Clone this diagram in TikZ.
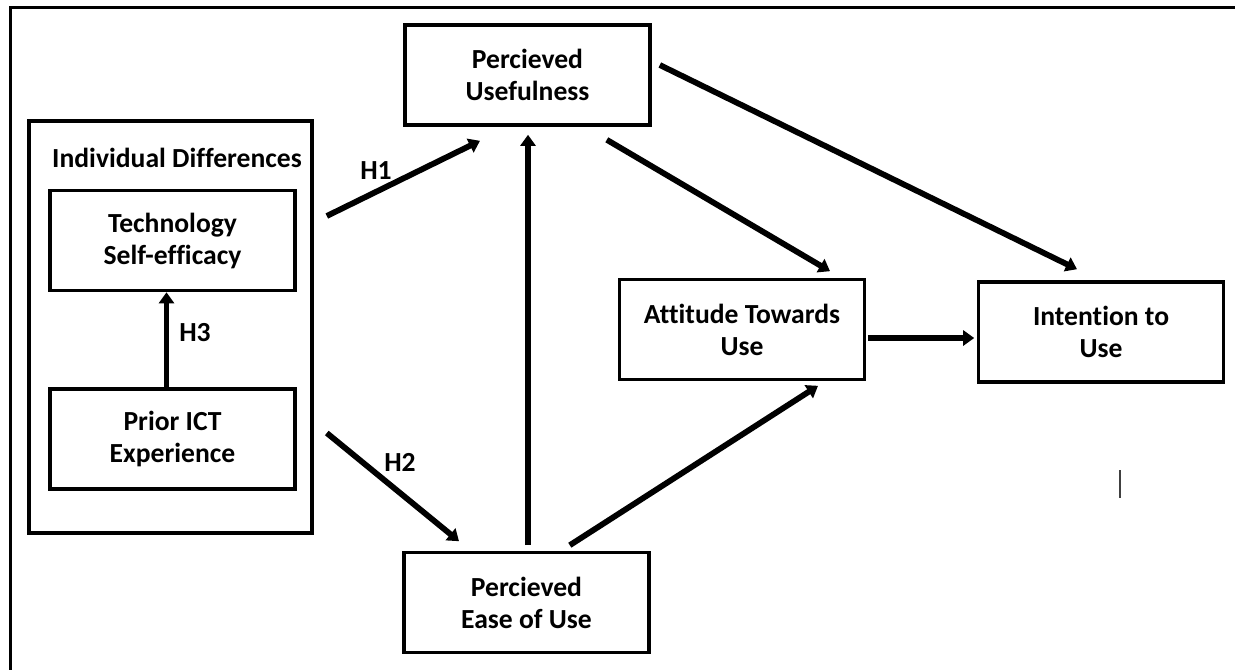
\documentclass[tikz,border=0pt]{standalone}
\usepackage{fontspec}
\setmainfont{Carlito}[Ligatures=NoCommon]
\usetikzlibrary{arrows.meta}
\begin{document}
\begin{tikzpicture}[x=0.5pt,y=-0.5pt,
    lbl/.style={font=\bfseries\fontsize{13.8}{16}\selectfont},
    box/.style={lbl,draw,line width=1.8pt,minimum width=122.5pt,minimum height=50pt,align=center,inner sep=0pt},
    arr/.style={line width=2.9pt,-{Triangle[length=5.5pt,width=7.5pt]}}]
  \useasboundingbox (0,0) rectangle (1235,670);
  \draw[line width=1.5pt] (1235,7) -- (10,7) -- (10,670);
  \draw
    (170.5,327) node[draw,line width=1.9pt,minimum width=141.5pt,minimum height=206pt] (indiv){}
    (177,158) node[lbl] (indivlbl){Individual Differences}
    (172.5,240.5) node[box] (tech){Technology\\Self-efficacy}
    (172.5,439) node[box] (prior){Prior ICT\\Experience}
    (527.5,75) node[box] (pu){Percieved\\Usefulness}
    (526.5,602.5) node[box] (ease){Percieved\\Ease of Use}
    (742,329.5) node[box] (att){Attitude Towards\\Use}
    (1101,332) node[box] (int){Intention to\\Use};
  \node[lbl] (h1) at (376,171) {H1};
  \node[lbl] (h2) at (400,462) {H2};
  \node[lbl] (h3) at (195,333) {H3};
  \begin{scope}[arr]
    \draw ([shift={(30,-24.5)}]tech.east) to ([shift={(-47.5,14)}]pu.south);
    \draw ([shift={(30,-6)}]prior.east) to ([shift={(-67.5,-9.5)}]ease.north);
    \draw ([xshift=-3pt]prior.north) to ([xshift=-3pt]tech.south);
    \draw ([shift={(1.5,-5.5)}]ease.north) to ([shift={(0.5,8)}]pu.south);
    \draw ([shift={(-45,13)}]pu.south east) to ([shift={(88,-6.5)}]att.north);
    \draw ([shift={(8,-10)}]pu.east) to ([shift={(-24,-11)}]int.north);
    \draw ([shift={(1.5,8.5)}]att.east) to ([shift={(-2.5,6)}]int.west);
    \draw ([shift={(-81,-5.5)}]ease.north east) to ([shift={(76,4.5)}]att.south);
  \end{scope}
  \draw[line width=1.2pt,black!75] (1120,470) -- (1120,498);
\end{tikzpicture}
\end{document}
